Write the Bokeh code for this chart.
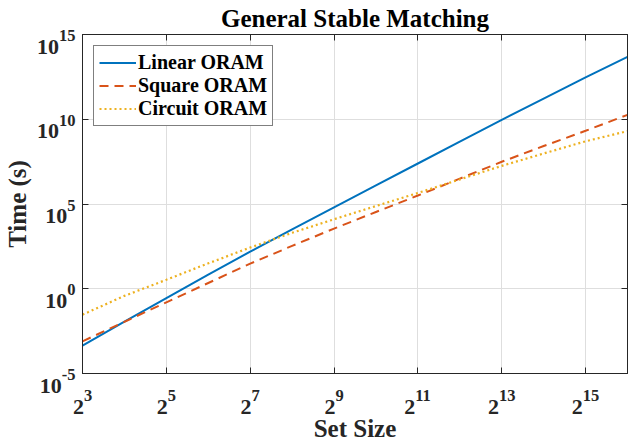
from bokeh.plotting import figure
from bokeh.models import FixedTicker, Legend, LegendItem, ColumnDataSource, LogAxis
from bokeh.core.properties import value
from bokeh.embed import file_html
from bokeh.resources import INLINE

# ---- data (values are log10 of time in seconds) ----
exponents = [3, 4, 5, 6, 7, 8, 9, 10, 11, 12, 13, 14, 15, 16]
linear_log10 = [-3.35, -1.94, -0.55, 0.83, 2.19, 3.50, 4.80, 6.10, 7.39, 8.68, 9.96, 11.22, 12.47, 13.68]
square_log10 = [-3.10, -1.95, -0.80, 0.34, 1.48, 2.53, 3.55, 4.53, 5.50, 6.50, 7.49, 8.42, 9.32, 10.26]
circuit_log10 = [-1.53, -0.42, 0.53, 1.50, 2.43, 3.30, 4.10, 4.88, 5.65, 6.45, 7.25, 7.98, 8.70, 9.30]

x_tick_exps = ["3", "5", "7", "9", "11", "13", "15"]
x_tick_base = "2"
y_tick_exps = ["-5", "0", "5", "10", "15"]
y_tick_base = "10"

set_size = [2.0 ** e for e in exponents]
linear = [10.0 ** v for v in linear_log10]
square = [10.0 ** v for v in square_log10]
circuit = [10.0 ** v for v in circuit_log10]
x_ticks = [2.0 ** int(e) for e in x_tick_exps]
y_ticks = [10.0 ** int(e) for e in y_tick_exps]

FONT = "Liberation Serif"
AXIS_COLOR = "#262626"
TEXT_COLOR = "#262626"
X_MIN, X_MAX = 2.0 ** 3, 2.0 ** 16
Y_MIN, Y_MAX = 1e-5, 1e15

p = figure(width=628, height=444, x_axis_type="log", y_axis_type="log",
           x_range=(X_MIN, X_MAX), y_range=(Y_MIN, Y_MAX),
           output_backend="svg", toolbar_location=None,
           title="General Stable Matching",
           min_border_left=79, min_border_right=1, min_border_top=34, min_border_bottom=70)

p.title.align = "center"
p.title.vertical_align = "top"
p.title.text_font = FONT
p.title.text_font_size = "25px"
p.title.text_font_style = "bold"
p.title.text_color = "#000000"
p.title.standoff = 1

p.background_fill_color = "white"
p.border_fill_color = "white"
p.outline_line_color = AXIS_COLOR
p.outline_line_width = 1
p.outline_line_alpha = 1.0

r1 = p.line(set_size, linear, line_color="#0072BD", line_width=2)
r2 = p.line(set_size, square, line_color="#D95319", line_width=2, line_dash="9 6")
r3 = p.line(set_size, circuit, line_color="#EDB120", line_width=2.2, line_dash="2 3")

bottom_axis = p.below[0]
left_axis = p.left[0]

# box ticks on the top and right sides (no labels)
top_axis = LogAxis()
right_axis = LogAxis()
p.add_layout(top_axis, "above")
p.add_layout(right_axis, "right")

def style_axis(ax, ticks):
    ax.ticker = FixedTicker(ticks=ticks)
    # the axis' own labels are not painted; base + superscript labels are drawn below
    ax.major_label_text_font_size = "1px"
    ax.major_label_text_color = None
    ax.major_label_standoff = 0
    ax.axis_line_color = AXIS_COLOR
    ax.major_tick_line_color = AXIS_COLOR
    ax.major_tick_in = 6
    ax.major_tick_out = 0
    ax.minor_tick_line_color = None

style_axis(bottom_axis, x_ticks)
style_axis(left_axis, y_ticks)
style_axis(top_axis, x_ticks)
style_axis(right_axis, y_ticks)

for ax in (bottom_axis, left_axis):
    ax.axis_label_text_font = FONT
    ax.axis_label_text_font_size = "25px"
    ax.axis_label_text_font_style = "bold"
    ax.axis_label_text_color = TEXT_COLOR

bottom_axis.axis_label = "Set Size"
left_axis.axis_label = "Time (s)"
bottom_axis.axis_label_standoff = 41
left_axis.axis_label_standoff = 52

# ---- tick labels: base + raised exponent, placed with the plot's own scales ----
BASE_SIZE = 22
EXP_SIZE = 16.5

def w(s, size):
    return sum((0.333 if c == "-" else 0.5) * size for c in s)

y_exp_w = [w(e, EXP_SIZE) for e in y_tick_exps]
ysrc = ColumnDataSource(dict(
    x=[X_MIN] * len(y_ticks), y=y_ticks,
    base=[y_tick_base] * len(y_ticks), exp=y_tick_exps,
    off=[-(7 + ew) for ew in y_exp_w]))
p.text(x="x", y="y", text="base", source=ysrc, x_offset="off", y_offset=12,
       text_align="right", text_baseline="alphabetic", text_font=value(FONT),
       text_font_size=f"{BASE_SIZE}px", text_font_style="bold", text_color=TEXT_COLOR, level="overlay")
p.text(x="x", y="y", text="exp", source=ysrc, x_offset="off", y_offset=1,
       text_align="left", text_baseline="alphabetic", text_font=value(FONT),
       text_font_size=f"{EXP_SIZE}px", text_font_style="bold", text_color=TEXT_COLOR, level="overlay")

x_bw = w(x_tick_base, BASE_SIZE)
x_split = [(x_bw + w(e, EXP_SIZE)) / 2 - w(e, EXP_SIZE) for e in x_tick_exps]
xsrc = ColumnDataSource(dict(
    x=x_ticks, y=[Y_MIN] * len(x_ticks),
    base=[x_tick_base] * len(x_ticks), exp=x_tick_exps, off=x_split))
p.text(x="x", y="y", text="base", source=xsrc, x_offset="off", y_offset=33,
       text_align="right", text_baseline="alphabetic", text_font=value(FONT),
       text_font_size=f"{BASE_SIZE}px", text_font_style="bold", text_color=TEXT_COLOR, level="overlay")
p.text(x="x", y="y", text="exp", source=xsrc, x_offset="off", y_offset=22,
       text_align="left", text_baseline="alphabetic", text_font=value(FONT),
       text_font_size=f"{EXP_SIZE}px", text_font_style="bold", text_color=TEXT_COLOR, level="overlay")

p.xgrid.ticker = FixedTicker(ticks=x_ticks)
p.ygrid.ticker = FixedTicker(ticks=y_ticks)
for g in (p.xgrid[0], p.ygrid[0]):
    g.grid_line_color = "#dedede"
    g.grid_line_width = 1

legend = Legend(items=[LegendItem(label="Linear ORAM", renderers=[r1]),
                       LegendItem(label="Square ORAM", renderers=[r2]),
                       LegendItem(label="Circuit ORAM", renderers=[r3])],
                location="top_left")
legend.margin = 11
legend.padding = 5
legend.spacing = 0
legend.glyph_width = 37
legend.glyph_height = 21
legend.label_height = 21
legend.label_standoff = 2
legend.label_text_font = FONT
legend.label_text_font_size = "20px"
legend.label_text_font_style = "bold"
legend.label_text_color = "#000000"
legend.border_line_color = "#000000"
legend.border_line_width = 1
legend.background_fill_color = "white"
legend.background_fill_alpha = 1.0
p.add_layout(legend, "center")

open("out.html", "w").write(file_html(p, INLINE))
